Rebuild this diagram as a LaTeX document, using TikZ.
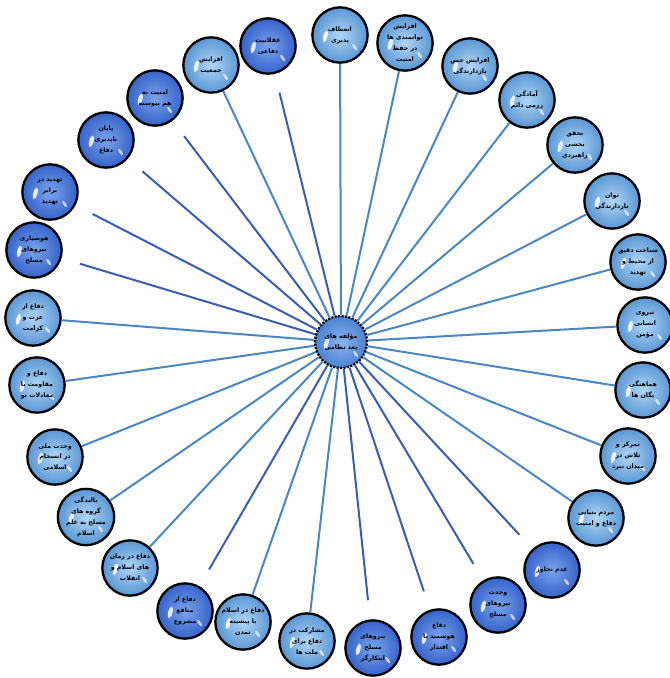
\documentclass[tikz,border=0pt]{standalone}
\usepackage{fontspec}
\TeXXeTstate=1
\newfontfamily\arabicfont[Script=Arabic]{DejaVu Sans}
\usetikzlibrary{calc}
\newcommand{\fa}[1]{{\arabicfont\bfseries\beginR #1\endR}}
\definecolor{lightball}{HTML}{5A96D3}
\definecolor{lightin}{HTML}{B0D6F7}
\definecolor{darkball}{HTML}{3563C8}
\definecolor{darkin}{HTML}{7AA3EE}
\definecolor{lline}{HTML}{4A86C0}
\definecolor{dline}{HTML}{3A5DAE}
\tikzset{
  ball/.style={circle, minimum size=41.5pt, inner sep=0pt, draw=black, line width=1.7pt,
    align=center, text=black, font=\fontsize{4.7}{8.2}\selectfont,
    path picture={
      \fill[white,opacity=0.85] ($(path picture bounding box.center)+(-11pt,-1pt)$) ellipse [x radius=1.6pt, y radius=4.5pt, rotate=-15];
      \fill[white,opacity=0.65] ($(path picture bounding box.center)+(11pt,-9pt)$) ellipse [x radius=1.1pt, y radius=2.8pt, rotate=35];
    }},
  lball/.style={ball, inner color=lightin, outer color=lightball},
  dball/.style={ball, inner color=darkin, outer color=darkball},
  hub/.style={ball, minimum size=39pt, dash pattern=on 1.6pt off 1pt, inner color=darkin!70!lightin, outer color=lightball!60!darkball},
  lconn/.style={draw=lline, line width=1.5pt},
  dconn/.style={draw=dline, line width=1.5pt},
}
\begin{document}
\begin{tikzpicture}[x=0.75pt, y=-0.75pt]
\useasboundingbox (0,0) rectangle (669,678);
\fill[white] (0,0) rectangle (669,678);
% hub
\node[hub] (c) at (341,342) {\fa{مؤلفه های}\\\fa{بعد نظامی}};
% outer nodes (clockwise from top)
\node[lball] (n1) at (340,35) {\fa{انعطاف}\\\fa{پذیری}};
\node[lball] (n2) at (405,43) {\fa{افزایش}\\\fa{توانمندی ها}\\\fa{در حفظ}\\\fa{امنیت}};
\node[lball] (n3) at (470,66) {\fa{افزایش حس}\\\fa{بازدارندگی}};
\node[lball] (n4) at (527,100) {\fa{آمادگی}\\\fa{رزمی دائم}};
\node[lball] (n5) at (575,145) {\fa{تحقق}\\\fa{بخشی}\\\fa{راهبردی}};
\node[lball] (n6) at (612,201) {\fa{توان}\\\fa{بازدارندگی}};
\node[lball] (n7) at (638,262) {\fa{شناخت دقیق}\\\fa{از محیط و}\\\fa{تهدید}};
\node[lball] (n8) at (645,325) {\fa{نیروی}\\\fa{انسانی}\\\fa{مؤمن}};
\node[lball] (n9) at (643,390) {\fa{هماهنگی}\\\fa{یگان ها}};
\node[lball] (n10) at (628,456) {\fa{تمرکز و}\\\fa{تلاش در}\\\fa{میدان نبرد}};
\node[lball] (n11) at (596,518) {\fa{مردم بنیانی}\\\fa{دفاع و امنیت}};
\node[dball] (n12) at (552,570) {\fa{عدم تجاوز}};
\node[dball] (n13) at (498,605) {\fa{وحدت}\\\fa{نیروهای}\\\fa{مسلح}};
\node[dball] (n14) at (439,637) {\fa{دفاع}\\\fa{هوشمند با}\\\fa{اقتدار}};
\node[dball] (n15) at (373,648) {\fa{نیروهای}\\\fa{مسلح}\\\fa{ابتکارگر}};
\node[lball] (n16) at (307,641) {\fa{مشارکت در}\\\fa{دفاع برای}\\\fa{ملت ها}};
\node[lball] (n17) at (243,622) {\fa{دفاع در اسلام}\\\fa{با پیشینه}\\\fa{تمدن}};
\node[dball] (n18) at (185,611) {\fa{دفاع از}\\\fa{منافع}\\\fa{مشروع}};
\node[lball] (n19) at (130,568) {\fa{دفاع در زمان}\\\fa{های اسلام و}\\\fa{انقلاب}};
\node[lball] (n20) at (86,517) {\fa{بالندگی}\\\fa{گروه های}\\\fa{مسلح به علم}\\\fa{اسلام}};
\node[lball] (n21) at (55,457) {\fa{وحدت ملی}\\\fa{در انسجام}\\\fa{اسلامی}};
\node[lball] (n22) at (37,385) {\fa{دفاع و}\\\fa{مقاومت با}\\\fa{معادلات نو}};
\node[lball] (n23) at (33,318) {\fa{دفاع از}\\\fa{عزت و}\\\fa{کرامت}};
\node[dball] (n24) at (34,250) {\fa{هوشیاری}\\\fa{نیروهای}\\\fa{مسلح}};
\node[dball] (n25) at (50,192) {\fa{تهدید در}\\\fa{برابر}\\\fa{تهدید}};
\node[dball] (n26) at (106,140) {\fa{پایان}\\\fa{ناپذیری}\\\fa{دفاع}};
\node[dball] (n27) at (155,98) {\fa{امنیت به}\\\fa{هم پیوسته}};
\node[lball] (n28) at (211,65) {\fa{افزایش}\\\fa{جمعیت}};
\node[dball] (n29) at (268,46) {\fa{عقلانیت}\\\fa{دفاعی}};
% free ends of the connectors toward the dark nodes
\foreach \i in {12,13,14,15,18,24,25,26,27,29}{
  \coordinate (e\i) at ($(n\i)!36pt!(c)$);
}
% connectors
\foreach \i in {1,2,3,4,5,6,7,8,9,10,11,16,17,19,20,21,22,23,28}{
  \draw[lconn] (c) -- (n\i);
}
\foreach \i in {12,13,14,15,18,24,25,26,27,29}{
  \draw[dconn] (c) -- (e\i);
}
\end{tikzpicture}
\end{document}
